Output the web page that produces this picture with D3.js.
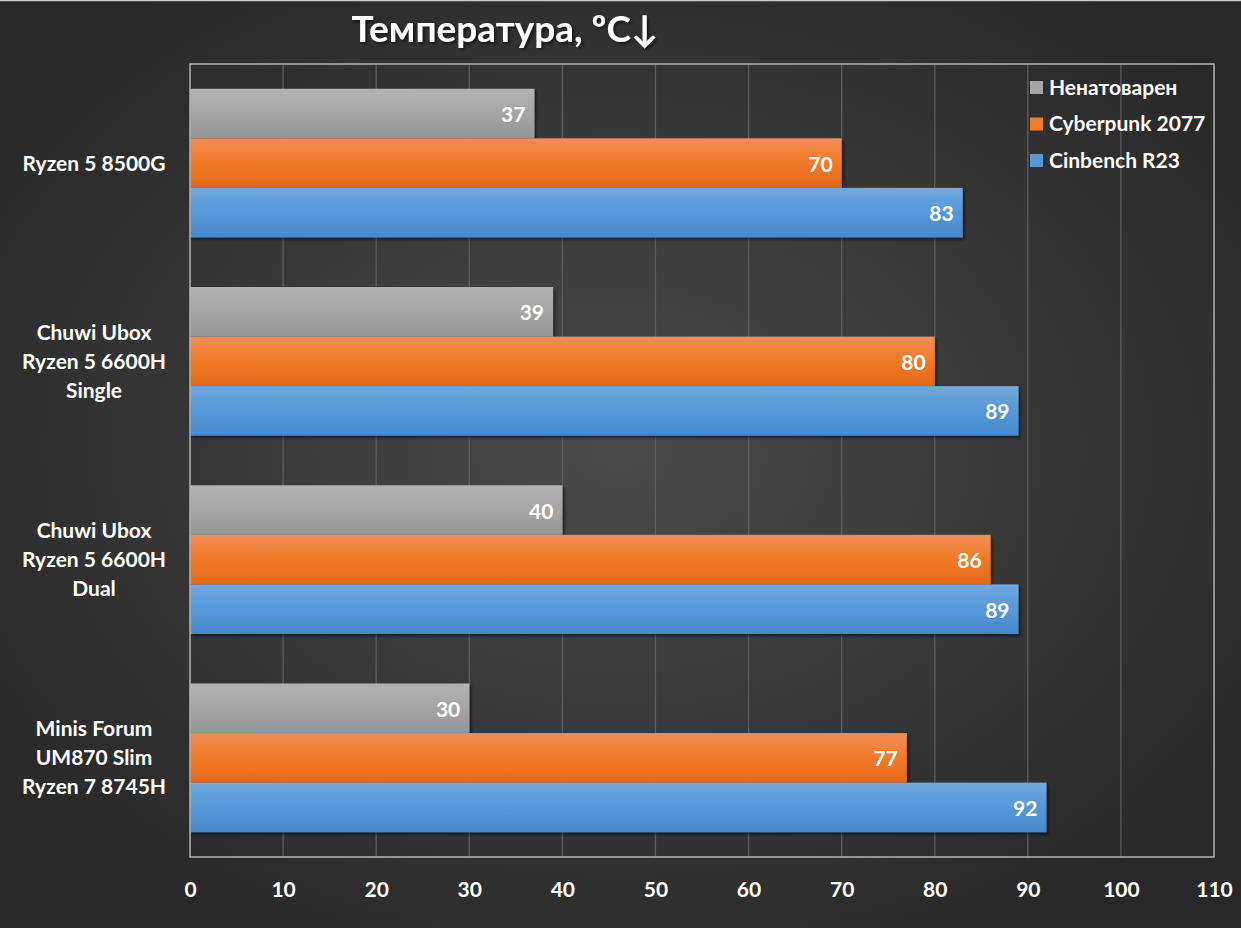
<!DOCTYPE html>
<html>
<head>
<meta charset="utf-8">
<script src="https://cdn.jsdelivr.net/npm/d3@7"></script>
<style>
  body { margin: 0; background: #2b2b2b; }
  svg text { font-family: Lato, "Open Sans", sans-serif; font-weight: bold; fill: #ffffff; }
</style>
</head>
<body>
<svg id="chart" width="1241" height="928"></svg>
<script>
// chart data
var categories = [
    ["Ryzen 5 8500G"],
    ["Chuwi Ubox", "Ryzen 5 6600H", "Single"],
    ["Chuwi Ubox", "Ryzen 5 6600H", "Dual"],
    ["Minis Forum", "UM870 Slim", "Ryzen 7 8745H"]
];
var seriesNames = ["Ненатоварен", "Cyberpunk 2077", "Cinbench R23"];
var idle = [37, 39, 40, 30];
var cyberpunk = [70, 80, 86, 77];
var cinebench = [83, 89, 89, 92];
var xTicks = [0, 10, 20, 30, 40, 50, 60, 70, 80, 90, 100, 110];
var title = "Температура, ºC↓";

var seriesValues = [idle, cyberpunk, cinebench];
// gradient stops per series: top, middle, bottom
var seriesColors = [
    ["#b3b3b3", "#a5a5a5", "#959595"],
    ["#f28d55", "#f27a28", "#e2671a"],
    ["#72aade", "#5598d9", "#4689cc"]
];

var width = 1241, height = 928;
var plot = {left: 190, right: 1214, top: 64, bottom: 857};
var fontSize = "21px";

var svg = d3.select("#chart");
var defs = svg.append("defs");

//--------------------------------- background ---------------------------------//
var bg = defs.append("radialGradient").attr("id", "bgGrad")
    .attr("cx", "50%").attr("cy", "48%").attr("r", "62%");
bg.append("stop").attr("offset", "0%").attr("stop-color", "#4a4a4a");
bg.append("stop").attr("offset", "100%").attr("stop-color", "#282828");

svg.append("rect").attr("width", width).attr("height", height).attr("fill", "url(#bgGrad)");
svg.append("line").attr("x1", 0).attr("x2", width).attr("y1", 0.5).attr("y2", 0.5)
    .attr("stroke", "#c8c8c8").attr("stroke-width", 1.5);

// bar gradients
seriesColors.forEach(function(c, i) {
    var g = defs.append("linearGradient").attr("id", "barGrad" + i)
        .attr("x1", 0).attr("x2", 0).attr("y1", 0).attr("y2", 1);
    g.append("stop").attr("offset", "0%").attr("stop-color", c[0]);
    g.append("stop").attr("offset", "50%").attr("stop-color", c[1]);
    g.append("stop").attr("offset", "100%").attr("stop-color", c[2]);
});

var shadow = defs.append("filter").attr("id", "shadow")
    .attr("x", "-5%").attr("y", "-20%").attr("width", "115%").attr("height", "150%");
shadow.append("feDropShadow").attr("dx", 2).attr("dy", 2).attr("stdDeviation", 1.5)
    .attr("flood-color", "#000").attr("flood-opacity", 0.55);

//--------------------------------- scales ---------------------------------//
var x = d3.scaleLinear().domain([0, 110]).range([plot.left, plot.right]);
var y = d3.scaleBand().domain(d3.range(categories.length)).range([plot.top, plot.bottom]);
var ySub = d3.scaleBand().domain(d3.range(seriesNames.length)).range([0, y.bandwidth()])
    .paddingInner(0).paddingOuter(0.5);

//--------------------------------- grid + axis ---------------------------------//
svg.append("g").selectAll("line")
    .data(xTicks.slice(1, -1))
    .enter().append("line")
        .attr("x1", function(d) { return x(d); })
        .attr("x2", function(d) { return x(d); })
        .attr("y1", plot.top).attr("y2", plot.bottom)
        .attr("stroke", "#5e5e5e").attr("stroke-width", 1.3);

var xAxis = svg.append("g")
    .attr("transform", "translate(0," + plot.bottom + ")")
    .call(d3.axisBottom(x).tickValues(xTicks).tickSize(0).tickPadding(25));
xAxis.select(".domain").remove();
xAxis.selectAll("text").style("font-size", fontSize).attr("fill", "#ffffff");

//--------------------------------- bars ---------------------------------//
var groups = svg.append("g").selectAll("g")
    .data(categories)
    .enter().append("g")
        .attr("transform", function(d, i) { return "translate(0," + y(i) + ")"; });

groups.each(function(cat, ci) {
    var g = d3.select(this);
    seriesValues.forEach(function(vals, si) {
        g.append("rect")
            .attr("x", x(0))
            .attr("y", ySub(si))
            .attr("width", x(vals[ci]) - x(0))
            .attr("height", ySub.bandwidth())
            .attr("fill", "url(#barGrad" + si + ")")
            .attr("filter", "url(#shadow)");
        g.append("text")
            .attr("x", x(vals[ci]) - 9)
            .attr("y", ySub(si) + ySub.bandwidth() / 2 + 1)
            .attr("dy", "0.36em")
            .attr("text-anchor", "end")
            .style("font-size", fontSize)
            .text(vals[ci]);
    });
});

// plot border (drawn above bars)
svg.append("rect")
    .attr("x", plot.left).attr("y", plot.top)
    .attr("width", plot.right - plot.left).attr("height", plot.bottom - plot.top)
    .attr("fill", "none").attr("stroke", "#b4b4b4").attr("stroke-width", 1.5);

//--------------------------------- category labels ---------------------------------//
svg.append("g").selectAll("text")
    .data(categories)
    .enter().append("text")
        .attr("text-anchor", "middle")
        .style("font-size", fontSize)
        .each(function(lines, i) {
            var cy = y(i) + y.bandwidth() / 2;
            var t = d3.select(this);
            lines.forEach(function(line, li) {
                t.append("tspan")
                    .attr("x", 94)
                    .attr("y", cy + (li - (lines.length - 1) / 2) * 29)
                    .attr("dy", "0.36em")
                    .text(line);
            });
        });

//--------------------------------- title ---------------------------------//
svg.append("text")
    .attr("x", 505).attr("y", 42)
    .attr("text-anchor", "middle")
    .attr("filter", "url(#shadow)")
    .style("font-size", "37px")
    .text(title);

//--------------------------------- legend ---------------------------------//
var legend = svg.append("g").selectAll("g")
    .data(seriesNames)
    .enter().append("g")
        .attr("transform", function(d, i) { return "translate(1030," + (87 + i * 36.5) + ")"; });
legend.append("rect")
    .attr("x", 0).attr("y", -6).attr("width", 13).attr("height", 13)
    .attr("fill", function(d, i) { return seriesColors[i][1]; });
legend.append("text")
    .attr("x", 19).attr("dy", "0.36em")
    .style("font-size", fontSize)
    .text(function(d) { return d; });
</script>
</body>
</html>
